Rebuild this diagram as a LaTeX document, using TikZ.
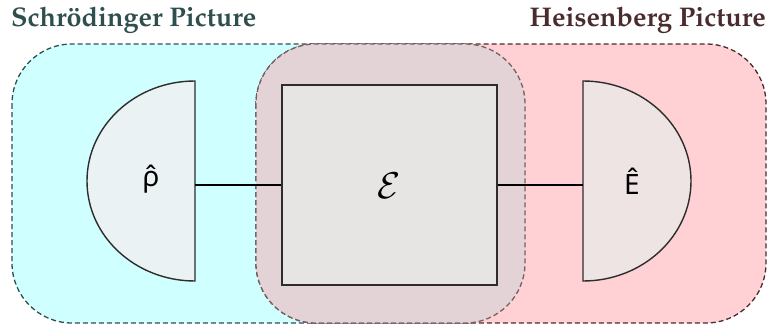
\documentclass[tikz,border=0pt]{standalone}
\usepackage[T1]{fontenc}
\usepackage{graphicx}
\usepackage{fontspec}
\newfontfamily\labfont{Noto Sans}
\newcommand{\titlefont}{\fontencoding{T1}\fontfamily{ppl}\fontseries{b}\selectfont\fontsize{27}{30}\selectfont}
\definecolor{cyanfill}{RGB}{207,255,255}
\definecolor{pinkfill}{RGB}{255,208,212}
\definecolor{midfill}{RGB}{227,211,214}
\definecolor{boxfill}{RGB}{231,229,228}
\definecolor{rhofill}{RGB}{234,242,243}
\definecolor{efill}{RGB}{238,228,228}
\definecolor{tealdark}{RGB}{47,79,79}
\definecolor{browndark}{RGB}{75,44,46}
\definecolor{midborder}{RGB}{120,96,100}
\definecolor{edge}{RGB}{45,45,45}
\tikzset{
  region/.style={rounded corners=60pt, line width=1.3pt, dash pattern=on 5pt off 3pt},
  gate/.style={draw=edge, line width=1.4pt},
  wire/.style={draw=black, line width=1.2pt},
  lab/.style={font=\labfont\fontsize{28}{30}\selectfont, inner sep=0pt},
  title/.style={font=\titlefont, inner sep=0pt}
}
\begin{document}
\begin{tikzpicture}[x=1pt,y=-1pt]
\useasboundingbox (0,0) rectangle (769,329);
% regions
\path[region, fill=cyanfill, draw=tealdark] (12,44) rectangle (525,323);
\path[region, fill=pinkfill, draw=browndark] (256,44) rectangle (766,323);
\path[region, fill=midfill, draw=midborder] (256,44) rectangle (525,323);
% titles
\node[title, text=tealdark, anchor=base west] (tS) at (11,27) {Schr\"odinger Picture};
\node[title, text=browndark, anchor=base east] (tH) at (766,27) {Heisenberg Picture};
% state
\path[gate, fill=rhofill] (195,81) -- (195,281) arc[start angle=90, end angle=270, x radius=108, y radius=100] -- cycle;
\node[lab] (rho) at (151,179) {ρ̂};
\coordinate (rhoport) at (195,185);
% effect
\path[gate, fill=efill] (583,281) -- (583,81) arc[start angle=270, end angle=450, x radius=108, y radius=100] -- cycle;
\node[lab] (E) at (632,181) {Ê};
\coordinate (Eport) at (583,185);
% channel
\node[gate, fill=boxfill, minimum width=215pt, minimum height=200pt, inner sep=0pt] (ch) at (389.5,185) {};
\node[inner sep=0pt] (chl) at ([yshift=-1pt]ch.center) {\scalebox{1.5}{\fontsize{24.88}{28}\selectfont$\mathcal{E}$}};
% wires
\draw[wire] (rhoport) -- (ch.west);
\draw[wire] (ch.east) -- (Eport);
\end{tikzpicture}
\end{document}
